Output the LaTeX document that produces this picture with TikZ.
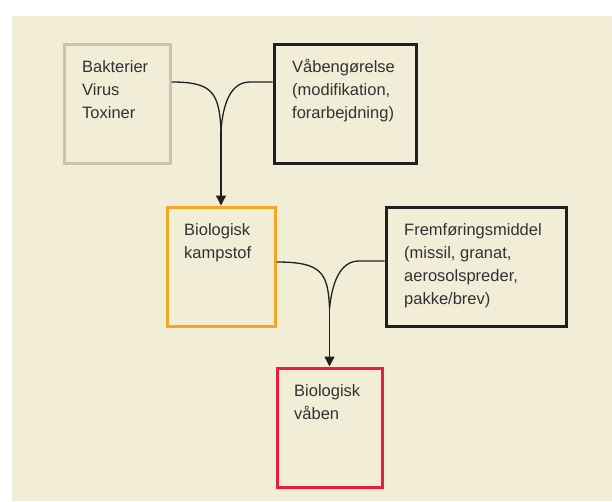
\documentclass[tikz,border=0pt]{standalone}
\usepackage{fontspec}
\setmainfont{Liberation Sans}
\usetikzlibrary{arrows.meta}

\begin{document}
\begin{tikzpicture}[x=1pt, y=-1pt]

% Define colors - matching the reference image
\definecolor{paper}{RGB}{242,237,214}
\definecolor{sand}{RGB}{201,197,170}
\definecolor{ink}{RGB}{35,31,32}
\definecolor{amber}{RGB}{245,166,35}
\definecolor{alarm}{RGB}{236,28,58}
\definecolor{txtgray}{RGB}{50,50,50}

\tikzset{
  box/.style={draw, line width=3pt, anchor=north west, inner sep=0pt},
  txt/.style={anchor=north west, inner sep=0pt, align=left, text=txtgray,
    font=\fontsize{16.5}{23}\selectfont},
  link/.style={ink, line width=1.3pt},
  feed/.style={link, -{Triangle[length=10pt, width=10pt]}}
}

% Page and background panel
\useasboundingbox (0,0) rectangle (612,501);
\fill[paper] (12,16) rectangle (612,501);

% Boxes (outer frames)
\node[box, draw=sand, minimum width=106pt, minimum height=119pt] (agent) at (62.5,42.5) {};
\node[box, draw=ink, minimum width=142pt, minimum height=119pt] (weapon) at (272.5,42.5) {};
\node[box, draw=amber, minimum width=108pt, minimum height=119pt] (kampstof) at (165.5,205.5) {};
\node[box, draw=ink, minimum width=180pt, minimum height=119pt] (carrier) at (384.5,205.5) {};
\node[box, draw=alarm, minimum width=105pt, minimum height=119pt] (vaaben) at (275.5,366.5) {};

% Texts inside the boxes
\node[txt] (agenttxt) at (82,55.9) {\strut Bakterier\\Virus\\Toxiner};
\node[txt] (weapontxt) at (292,55.9) {\strut Våbengørelse\\(modifikation,\\forarbejdning)};
\node[txt] (kampstoftxt) at (184,218.9) {\strut Biologisk\\kampstof};
\node[txt] (carriertxt) at (404,218.9) {\strut Fremføringsmiddel\\(missil, granat,\\aerosolspreder,\\pakke/brev)};
\node[txt] (vaabentxt) at (294,379.9) {\strut Biologisk\\våben};

% Join points of the curved feeds
\coordinate (join1) at (kampstof.north |- 0,130);
\coordinate (join2) at (vaaben.north |- 0,308);

% Upper junction
\draw[link] (agent.east |- 0,82) .. controls (212,82) and (219,92) .. (join1);
\draw[link] (weapon.west |- 0,82) -- (250,82) .. controls (230,82) and (223,105) .. (join1);
\draw[feed] (join1) -- (kampstof.north);

% Lower junction
\draw[link] (kampstof.east |- 0,262) .. controls (321,262) and (328,272) .. (join2);
\draw[link] (carrier.west |- 0,261) -- (359,261) .. controls (339,261) and (332,285) .. (join2);
\draw[feed] (join2) -- (vaaben.north);

\end{tikzpicture}
\end{document}
